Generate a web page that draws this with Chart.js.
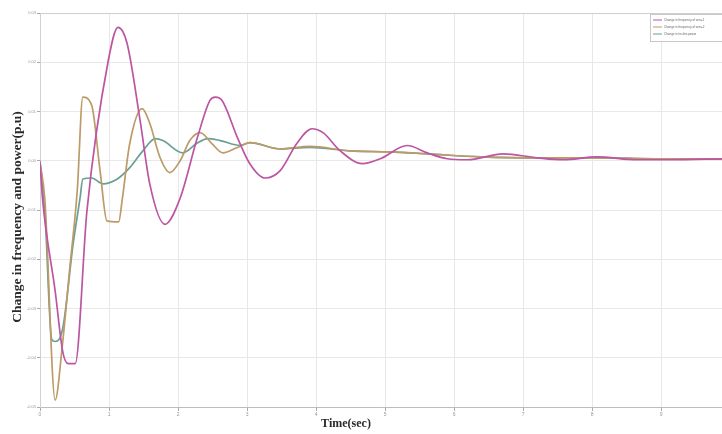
<!DOCTYPE html>
<html>
<head>
<meta charset="utf-8">
<script src="https://cdn.jsdelivr.net/npm/chart.js@4.4.0/dist/chart.umd.min.js"></script>
<style>
  html, body { margin: 0; padding: 0; background: #ffffff; }
  #wrap { width: 722px; height: 434px; }
</style>
</head>
<body>
<div id="wrap"><canvas id="c" width="722" height="434"></canvas></div>
<script>
// ---- data (time in s, deviation in p.u.) ----
const seriesLabels = ['Change in frequency of area-1', 'Change in frequency of area-2', 'Change in tie-line power'];

const magT = [0, 0.04, 0.22, 0.33, 0.41, 0.51, 0.68, 0.99, 1.13, 1.26, 1.45, 1.59, 1.81, 2.03, 2.28, 2.46, 2.54, 2.64, 2.86, 3.04, 3.26, 3.48, 3.72, 3.94, 4.10, 4.35, 4.67, 4.93, 5.32, 5.61, 5.90, 6.19, 6.71, 7.20, 7.58, 8.07, 8.65, 9.13, 9.88];
const magV = [-0.0004, -0.0082, -0.0265, -0.0388, -0.0412, -0.0412, -0.0102, 0.0204, 0.0271, 0.0239, 0.0082, -0.0047, -0.0129, -0.0076, 0.0047, 0.0122, 0.0129, 0.0122, 0.0047, -0.0006, -0.0035, -0.0020, 0.0035, 0.0065, 0.0057, 0.0020, -0.0006, 0.0004, 0.0031, 0.0016, 0.0004, 0.0002, 0.0014, 0.0006, 0.0002, 0.0008, 0.0002, 0.0002, 0.0004];

const oliT = [0, 0.07, 0.22, 0.32, 0.43, 0.54, 0.62, 0.75, 0.87, 0.97, 1.14, 1.19, 1.30, 1.48, 1.59, 1.74, 1.88, 2.03, 2.17, 2.32, 2.49, 2.65, 2.86, 3.04, 3.48, 3.91, 4.49, 5.07, 5.61, 6.38, 7.25, 8.12, 8.99, 9.88];
const oliV = [-0.0004, -0.0078, -0.0486, -0.0380, -0.0220, -0.0060, 0.0129, 0.0112, -0.0020, -0.0122, -0.0124, -0.0080, 0.0035, 0.0106, 0.0076, 0.0006, -0.0024, 0.0000, 0.0041, 0.0057, 0.0035, 0.0016, 0.0027, 0.0037, 0.0024, 0.0029, 0.0020, 0.0018, 0.0014, 0.0008, 0.0006, 0.0006, 0.0004, 0.0004];

const tealT = [0, 0.07, 0.17, 0.22, 0.33, 0.48, 0.58, 0.62, 0.75, 0.91, 1.12, 1.30, 1.49, 1.67, 1.78, 2.07, 2.27, 2.43, 2.61, 2.90, 3.04, 3.48, 3.91, 4.49, 5.07, 5.61, 6.38, 7.25, 8.12, 8.99, 9.88];
const tealV = [0.0000, -0.0102, -0.0363, -0.0367, -0.0340, -0.0169, -0.0076, -0.0037, -0.0035, -0.0047, -0.0037, -0.0014, 0.0020, 0.0045, 0.0041, 0.0016, 0.0035, 0.0045, 0.0041, 0.0031, 0.0037, 0.0024, 0.0027, 0.0020, 0.0018, 0.0014, 0.0008, 0.0006, 0.0006, 0.0004, 0.0004];

const xMin = 0, xMax = 9.88, xStep = 1;
const yMin = -0.05, yMax = 0.03, yStep = 0.01;
const xTitle = 'Time(sec)';
const yTitle = 'Change in frequency and power(p.u)';

const colors = ['#bc55a2', '#bd9a68', '#6a9f96'];

function pts(t, v) { return t.map((x, i) => ({ x: x, y: v[i] })); }

const overlay = {
  id: 'overlay',
  afterDraw(chart) {
    const ctx = chart.ctx;
    const a = chart.chartArea;
    ctx.save();
    // top border
    ctx.strokeStyle = '#cfcfcf';
    ctx.lineWidth = 1;
    ctx.beginPath(); ctx.moveTo(a.left, a.top + 0.5); ctx.lineTo(a.right, a.top + 0.5); ctx.stroke();
    // x title
    ctx.fillStyle = '#2a2a2a';
    ctx.font = 'bold 12px "Liberation Serif", "DejaVu Serif", serif';
    ctx.textAlign = 'center'; ctx.textBaseline = 'middle';
    ctx.fillText(xTitle, 346, 424);
    // y title
    ctx.font = 'bold 13.5px "Liberation Serif", "DejaVu Serif", serif';
    ctx.translate(18, 217);
    ctx.rotate(-Math.PI / 2);
    ctx.fillText(yTitle, 0, 0);
    ctx.restore();
    // legend box
    ctx.save();
    const lx = 650, ly = 14, lw = 72, lh = 27;
    ctx.fillStyle = '#ffffff';
    ctx.fillRect(lx, ly, lw, lh);
    ctx.strokeStyle = '#c8c8c8';
    ctx.strokeRect(lx + 0.5, ly + 0.5, lw, lh);
    ctx.font = '3px "Liberation Sans", sans-serif';
    ctx.textBaseline = 'middle'; ctx.textAlign = 'left';
    chart.data.datasets.forEach((ds, i) => {
      const yy = ly + 6 + i * 7;
      ctx.strokeStyle = ds.borderColor; ctx.lineWidth = 1;
      ctx.beginPath(); ctx.moveTo(lx + 3, yy); ctx.lineTo(lx + 12, yy); ctx.stroke();
      ctx.fillStyle = '#666666';
      ctx.fillText(ds.label, lx + 14, yy);
    });
    ctx.restore();
  }
};

new Chart(document.getElementById('c'), {
  type: 'line',
  data: {
    datasets: [
      { label: seriesLabels[0], data: pts(magT, magV), borderColor: colors[0] },
      { label: seriesLabels[1], data: pts(oliT, oliV), borderColor: colors[1] },
      { label: seriesLabels[2], data: pts(tealT, tealV), borderColor: colors[2] }
    ].map(d => Object.assign(d, { borderWidth: 1.7, pointRadius: 0, fill: false, cubicInterpolationMode: 'monotone' }))
  },
  options: {
    responsive: false,
    animation: false,
    layout: { padding: { top: 13, right: 0, left: 0, bottom: 0 } },
    plugins: { legend: { display: false }, tooltip: { enabled: false } },
    scales: {
      x: {
        type: 'linear', min: xMin, max: xMax,
        ticks: { stepSize: xStep, font: { size: 5 }, color: '#999999', padding: 1, maxRotation: 0,
                 callback: v => (Math.abs(v - Math.round(v)) < 1e-6 ? String(Math.round(v)) : '') },
        afterBuildTicks: s => { s.ticks = s.ticks.filter(t => Math.abs(t.value - Math.round(t.value)) < 1e-6); },
        afterFit: s => { s.height = 27; },
        grid: { color: '#e8e8e8', tickLength: 4, tickColor: '#aaaaaa' },
        border: { color: '#bdbdbd', width: 1 }
      },
      y: {
        type: 'linear', min: yMin, max: yMax,
        ticks: { stepSize: yStep, font: { size: 4 }, color: '#999999', padding: 1,
                 callback: v => Number(v).toFixed(2) },
        afterFit: s => { s.width = 40; },
        grid: { color: '#e8e8e8', tickLength: 3, tickColor: '#aaaaaa' },
        border: { color: '#d0d0d0', width: 1 }
      }
    }
  },
  plugins: [overlay]
});
</script>
</body>
</html>
